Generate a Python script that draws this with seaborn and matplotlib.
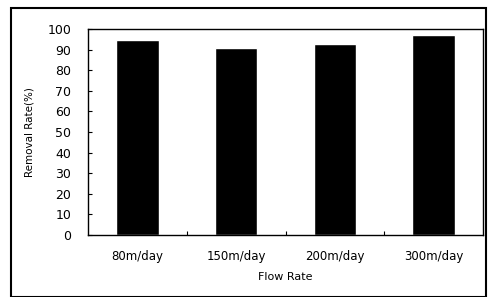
import matplotlib
matplotlib.use('Agg')
import matplotlib.pyplot as plt
import seaborn as sns
import pandas as pd
from matplotlib.patches import Rectangle

# data
flow_rates = ['80m/day', '150m/day', '200m/day', '300m/day']
removal_rates = [94.7, 90.8, 92.7, 97.1]
y_ticks = list(range(0, 101, 10))

sns.set_theme(style='white')
plt.rcParams['font.family'] = ['DejaVu Sans']
plt.rcParams['text.color'] = 'black'
plt.rcParams['axes.labelcolor'] = 'black'
plt.rcParams['xtick.color'] = 'black'
plt.rcParams['ytick.color'] = 'black'

df = pd.DataFrame({'Flow Rate': flow_rates, 'Removal Rate': removal_rates})

fig = plt.figure(figsize=(4.88, 2.97), dpi=100)
ax = fig.add_axes([88 / 488, 1 - 235 / 297, 395 / 488, 206 / 297])

sns.barplot(data=df, x='Flow Rate', y='Removal Rate', color='black',
            width=0.43, saturation=1, ax=ax)

ax.set_ylim(0, 100)
ax.set_xlim(-0.5, len(flow_rates) - 0.5)
ax.set_yticks(y_ticks)
ax.set_yticklabels([str(t) for t in y_ticks], fontsize=9)
ax.set_xticks([i + 0.5 for i in range(len(flow_rates) - 1)], minor=True)
ax.set_xticklabels(flow_rates, fontsize=8.5)
ax.tick_params(axis='x', which='major', length=0, pad=11)
ax.tick_params(axis='x', which='minor', direction='in', length=3, width=0.8,
               bottom=True)
ax.tick_params(axis='y', direction='in', length=3, width=0.8, left=True, pad=12)
ax.set_xlabel('Flow Rate', fontsize=8, labelpad=6)
ax.set_ylabel('Removal Rate(%)', fontsize=7.5, labelpad=9)

for s in ax.spines.values():
    s.set_color('black')
    s.set_linewidth(1.0)

# outer frame around the whole chart
fig.patches.append(Rectangle((11 / 488, 0.0), 475 / 488, 1 - 8 / 297,
                             transform=fig.transFigure, fill=False,
                             edgecolor='black', linewidth=1.5))

fig.savefig('out.png', dpi=100)
plt.close(fig)
